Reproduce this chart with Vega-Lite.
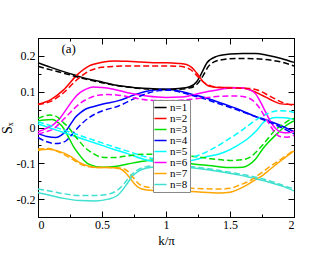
{
"$schema":"https://vega.github.io/schema/vega-lite/v6.json",
"width":256,"height":179,
"autosize":{"type":"none"},
"padding":{"left":38,"top":38,"right":38,"bottom":40},
"background":"white",
"config":{"view":{"stroke":"black","strokeWidth":1},"font":"Liberation Serif",
 "axis":{"grid":false,"domainColor":"black","tickColor":"black","labelColor":"black","titleColor":"black","labelFont":"Liberation Serif","titleFont":"Liberation Serif","labelFontSize":12,"titleFontSize":14,"titleFontWeight":"normal"}},
"data":{"values":[
{"n":"n=1","s":"solid","k":0,"v":0.181},{"n":"n=1","s":"solid","k":0.1,"v":0.168},{"n":"n=1","s":"solid","k":0.2,"v":0.156},{"n":"n=1","s":"solid","k":0.3,"v":0.145},{"n":"n=1","s":"solid","k":0.4,"v":0.135},{"n":"n=1","s":"solid","k":0.5,"v":0.127},{"n":"n=1","s":"solid","k":0.6,"v":0.119},{"n":"n=1","s":"solid","k":0.7,"v":0.114},{"n":"n=1","s":"solid","k":0.8,"v":0.11},{"n":"n=1","s":"solid","k":0.9,"v":0.108},{"n":"n=1","s":"solid","k":1.0,"v":0.107},{"n":"n=1","s":"solid","k":1.1,"v":0.109},{"n":"n=1","s":"solid","k":1.18,"v":0.113},{"n":"n=1","s":"solid","k":1.24,"v":0.128},{"n":"n=1","s":"solid","k":1.28,"v":0.153},{"n":"n=1","s":"solid","k":1.32,"v":0.181},{"n":"n=1","s":"solid","k":1.39,"v":0.198},{"n":"n=1","s":"solid","k":1.5,"v":0.205},{"n":"n=1","s":"solid","k":1.6,"v":0.207},{"n":"n=1","s":"solid","k":1.7,"v":0.207},{"n":"n=1","s":"solid","k":1.8,"v":0.201},{"n":"n=1","s":"solid","k":1.9,"v":0.193},{"n":"n=1","s":"solid","k":2.0,"v":0.182},
{"n":"n=1","s":"dash","k":0,"v":0.171},{"n":"n=1","s":"dash","k":0.1,"v":0.161},{"n":"n=1","s":"dash","k":0.2,"v":0.152},{"n":"n=1","s":"dash","k":0.3,"v":0.142},{"n":"n=1","s":"dash","k":0.4,"v":0.133},{"n":"n=1","s":"dash","k":0.5,"v":0.125},{"n":"n=1","s":"dash","k":0.6,"v":0.118},{"n":"n=1","s":"dash","k":0.7,"v":0.113},{"n":"n=1","s":"dash","k":0.8,"v":0.109},{"n":"n=1","s":"dash","k":0.9,"v":0.107},{"n":"n=1","s":"dash","k":1.0,"v":0.106},{"n":"n=1","s":"dash","k":1.1,"v":0.107},{"n":"n=1","s":"dash","k":1.18,"v":0.11},{"n":"n=1","s":"dash","k":1.24,"v":0.12},{"n":"n=1","s":"dash","k":1.29,"v":0.145},{"n":"n=1","s":"dash","k":1.33,"v":0.17},{"n":"n=1","s":"dash","k":1.38,"v":0.184},{"n":"n=1","s":"dash","k":1.45,"v":0.19},{"n":"n=1","s":"dash","k":1.55,"v":0.193},{"n":"n=1","s":"dash","k":1.7,"v":0.192},{"n":"n=1","s":"dash","k":1.8,"v":0.189},{"n":"n=1","s":"dash","k":1.9,"v":0.183},{"n":"n=1","s":"dash","k":2.0,"v":0.172},
{"n":"n=2","s":"solid","k":0,"v":0.065},{"n":"n=2","s":"solid","k":0.1,"v":0.078},{"n":"n=2","s":"solid","k":0.2,"v":0.105},{"n":"n=2","s":"solid","k":0.3,"v":0.145},{"n":"n=2","s":"solid","k":0.4,"v":0.172},{"n":"n=2","s":"solid","k":0.5,"v":0.182},{"n":"n=2","s":"solid","k":0.6,"v":0.186},{"n":"n=2","s":"solid","k":0.7,"v":0.185},{"n":"n=2","s":"solid","k":0.8,"v":0.183},{"n":"n=2","s":"solid","k":0.9,"v":0.181},{"n":"n=2","s":"solid","k":1.0,"v":0.181},{"n":"n=2","s":"solid","k":1.1,"v":0.179},{"n":"n=2","s":"solid","k":1.16,"v":0.176},{"n":"n=2","s":"solid","k":1.2,"v":0.168},{"n":"n=2","s":"solid","k":1.24,"v":0.152},{"n":"n=2","s":"solid","k":1.29,"v":0.128},{"n":"n=2","s":"solid","k":1.34,"v":0.115},{"n":"n=2","s":"solid","k":1.4,"v":0.112},{"n":"n=2","s":"solid","k":1.5,"v":0.112},{"n":"n=2","s":"solid","k":1.6,"v":0.11},{"n":"n=2","s":"solid","k":1.68,"v":0.102},{"n":"n=2","s":"solid","k":1.75,"v":0.09},{"n":"n=2","s":"solid","k":1.81,"v":0.079},{"n":"n=2","s":"solid","k":1.9,"v":0.066},{"n":"n=2","s":"solid","k":2.0,"v":0.064},
{"n":"n=2","s":"dash","k":0,"v":0.064},{"n":"n=2","s":"dash","k":0.1,"v":0.073},{"n":"n=2","s":"dash","k":0.2,"v":0.097},{"n":"n=2","s":"dash","k":0.3,"v":0.132},{"n":"n=2","s":"dash","k":0.4,"v":0.158},{"n":"n=2","s":"dash","k":0.5,"v":0.168},{"n":"n=2","s":"dash","k":0.6,"v":0.171},{"n":"n=2","s":"dash","k":0.7,"v":0.172},{"n":"n=2","s":"dash","k":0.8,"v":0.172},{"n":"n=2","s":"dash","k":0.9,"v":0.172},{"n":"n=2","s":"dash","k":1.0,"v":0.172},{"n":"n=2","s":"dash","k":1.1,"v":0.171},{"n":"n=2","s":"dash","k":1.185,"v":0.163},{"n":"n=2","s":"dash","k":1.22,"v":0.153},{"n":"n=2","s":"dash","k":1.26,"v":0.138},{"n":"n=2","s":"dash","k":1.3,"v":0.125},{"n":"n=2","s":"dash","k":1.35,"v":0.116},{"n":"n=2","s":"dash","k":1.45,"v":0.111},{"n":"n=2","s":"dash","k":1.55,"v":0.11},{"n":"n=2","s":"dash","k":1.65,"v":0.109},{"n":"n=2","s":"dash","k":1.72,"v":0.104},{"n":"n=2","s":"dash","k":1.81,"v":0.088},{"n":"n=2","s":"dash","k":1.91,"v":0.07},{"n":"n=2","s":"dash","k":2.0,"v":0.062},
{"n":"n=3","s":"solid","k":0,"v":0.018},{"n":"n=3","s":"solid","k":0.05,"v":0.021},{"n":"n=3","s":"solid","k":0.11,"v":0.022},{"n":"n=3","s":"solid","k":0.16,"v":0.013},{"n":"n=3","s":"solid","k":0.19,"v":0.003},{"n":"n=3","s":"solid","k":0.24,"v":-0.028},{"n":"n=3","s":"solid","k":0.28,"v":-0.055},{"n":"n=3","s":"solid","k":0.32,"v":-0.075},{"n":"n=3","s":"solid","k":0.36,"v":-0.092},{"n":"n=3","s":"solid","k":0.4,"v":-0.103},{"n":"n=3","s":"solid","k":0.5,"v":-0.111},{"n":"n=3","s":"solid","k":0.6,"v":-0.109},{"n":"n=3","s":"solid","k":0.7,"v":-0.102},{"n":"n=3","s":"solid","k":0.82,"v":-0.094},{"n":"n=3","s":"solid","k":0.9,"v":-0.091},{"n":"n=3","s":"solid","k":1.0,"v":-0.091},{"n":"n=3","s":"solid","k":1.1,"v":-0.095},{"n":"n=3","s":"solid","k":1.2,"v":-0.101},{"n":"n=3","s":"solid","k":1.3,"v":-0.105},{"n":"n=3","s":"solid","k":1.4,"v":-0.109},{"n":"n=3","s":"solid","k":1.5,"v":-0.112},{"n":"n=3","s":"solid","k":1.6,"v":-0.111},{"n":"n=3","s":"solid","k":1.65,"v":-0.104},{"n":"n=3","s":"solid","k":1.7,"v":-0.088},{"n":"n=3","s":"solid","k":1.76,"v":-0.058},{"n":"n=3","s":"solid","k":1.81,"v":-0.038},{"n":"n=3","s":"solid","k":1.86,"v":-0.02},{"n":"n=3","s":"solid","k":1.92,"v":0.0},{"n":"n=3","s":"solid","k":1.97,"v":0.013},{"n":"n=3","s":"solid","k":2.0,"v":0.018},
{"n":"n=3","s":"dash","k":0,"v":0.025},{"n":"n=3","s":"dash","k":0.05,"v":0.032},{"n":"n=3","s":"dash","k":0.09,"v":0.035},{"n":"n=3","s":"dash","k":0.13,"v":0.033},{"n":"n=3","s":"dash","k":0.17,"v":0.024},{"n":"n=3","s":"dash","k":0.2,"v":0.013},{"n":"n=3","s":"dash","k":0.24,"v":0.0},{"n":"n=3","s":"dash","k":0.28,"v":-0.02},{"n":"n=3","s":"dash","k":0.32,"v":-0.037},{"n":"n=3","s":"dash","k":0.37,"v":-0.057},{"n":"n=3","s":"dash","k":0.42,"v":-0.07},{"n":"n=3","s":"dash","k":0.5,"v":-0.083},{"n":"n=3","s":"dash","k":0.6,"v":-0.084},{"n":"n=3","s":"dash","k":0.7,"v":-0.079},{"n":"n=3","s":"dash","k":0.82,"v":-0.075},{"n":"n=3","s":"dash","k":1.0,"v":-0.075},{"n":"n=3","s":"dash","k":1.1,"v":-0.077},{"n":"n=3","s":"dash","k":1.2,"v":-0.08},{"n":"n=3","s":"dash","k":1.35,"v":-0.087},{"n":"n=3","s":"dash","k":1.5,"v":-0.092},{"n":"n=3","s":"dash","k":1.6,"v":-0.09},{"n":"n=3","s":"dash","k":1.65,"v":-0.084},{"n":"n=3","s":"dash","k":1.7,"v":-0.07},{"n":"n=3","s":"dash","k":1.76,"v":-0.047},{"n":"n=3","s":"dash","k":1.81,"v":-0.025},{"n":"n=3","s":"dash","k":1.86,"v":-0.005},{"n":"n=3","s":"dash","k":1.92,"v":0.01},{"n":"n=3","s":"dash","k":1.97,"v":0.022},{"n":"n=3","s":"dash","k":2.0,"v":0.025},
{"n":"n=4","s":"solid","k":0,"v":-0.017},{"n":"n=4","s":"solid","k":0.07,"v":-0.025},{"n":"n=4","s":"solid","k":0.14,"v":-0.028},{"n":"n=4","s":"solid","k":0.18,"v":-0.022},{"n":"n=4","s":"solid","k":0.22,"v":-0.009},{"n":"n=4","s":"solid","k":0.26,"v":0.012},{"n":"n=4","s":"solid","k":0.29,"v":0.028},{"n":"n=4","s":"solid","k":0.33,"v":0.041},{"n":"n=4","s":"solid","k":0.37,"v":0.051},{"n":"n=4","s":"solid","k":0.43,"v":0.058},{"n":"n=4","s":"solid","k":0.5,"v":0.065},{"n":"n=4","s":"solid","k":0.63,"v":0.075},{"n":"n=4","s":"solid","k":0.76,"v":0.092},{"n":"n=4","s":"solid","k":0.85,"v":0.101},{"n":"n=4","s":"solid","k":0.95,"v":0.106},{"n":"n=4","s":"solid","k":1.03,"v":0.106},{"n":"n=4","s":"solid","k":1.1,"v":0.102},{"n":"n=4","s":"solid","k":1.2,"v":0.093},{"n":"n=4","s":"solid","k":1.3,"v":0.084},{"n":"n=4","s":"solid","k":1.4,"v":0.072},{"n":"n=4","s":"solid","k":1.55,"v":0.053},{"n":"n=4","s":"solid","k":1.7,"v":0.031},{"n":"n=4","s":"solid","k":1.8,"v":0.019},{"n":"n=4","s":"solid","k":1.9,"v":0.005},{"n":"n=4","s":"solid","k":2.0,"v":-0.012},
{"n":"n=4","s":"dash","k":0,"v":-0.028},{"n":"n=4","s":"dash","k":0.07,"v":-0.04},{"n":"n=4","s":"dash","k":0.14,"v":-0.045},{"n":"n=4","s":"dash","k":0.19,"v":-0.042},{"n":"n=4","s":"dash","k":0.22,"v":-0.037},{"n":"n=4","s":"dash","k":0.26,"v":-0.022},{"n":"n=4","s":"dash","k":0.29,"v":-0.009},{"n":"n=4","s":"dash","k":0.34,"v":0.01},{"n":"n=4","s":"dash","k":0.4,"v":0.028},{"n":"n=4","s":"dash","k":0.5,"v":0.046},{"n":"n=4","s":"dash","k":0.63,"v":0.06},{"n":"n=4","s":"dash","k":0.76,"v":0.082},{"n":"n=4","s":"dash","k":0.85,"v":0.095},{"n":"n=4","s":"dash","k":0.95,"v":0.103},{"n":"n=4","s":"dash","k":1.03,"v":0.104},{"n":"n=4","s":"dash","k":1.1,"v":0.1},{"n":"n=4","s":"dash","k":1.2,"v":0.09},{"n":"n=4","s":"dash","k":1.3,"v":0.08},{"n":"n=4","s":"dash","k":1.4,"v":0.068},{"n":"n=4","s":"dash","k":1.55,"v":0.05},{"n":"n=4","s":"dash","k":1.7,"v":0.03},{"n":"n=4","s":"dash","k":1.8,"v":0.016},{"n":"n=4","s":"dash","k":1.9,"v":0.0},{"n":"n=4","s":"dash","k":2.0,"v":-0.018},
{"n":"n=5","s":"solid","k":0,"v":0.01},{"n":"n=5","s":"solid","k":0.1,"v":-0.002},{"n":"n=5","s":"solid","k":0.2,"v":-0.014},{"n":"n=5","s":"solid","k":0.3,"v":-0.026},{"n":"n=5","s":"solid","k":0.4,"v":-0.038},{"n":"n=5","s":"solid","k":0.5,"v":-0.05},{"n":"n=5","s":"solid","k":0.6,"v":-0.062},{"n":"n=5","s":"solid","k":0.7,"v":-0.073},{"n":"n=5","s":"solid","k":0.82,"v":-0.088},{"n":"n=5","s":"solid","k":0.9,"v":-0.095},{"n":"n=5","s":"solid","k":1.0,"v":-0.1},{"n":"n=5","s":"solid","k":1.1,"v":-0.098},{"n":"n=5","s":"solid","k":1.2,"v":-0.092},{"n":"n=5","s":"solid","k":1.3,"v":-0.083},{"n":"n=5","s":"solid","k":1.45,"v":-0.07},{"n":"n=5","s":"solid","k":1.55,"v":-0.052},{"n":"n=5","s":"solid","k":1.65,"v":-0.028},{"n":"n=5","s":"solid","k":1.71,"v":-0.008},{"n":"n=5","s":"solid","k":1.76,"v":0.014},{"n":"n=5","s":"solid","k":1.81,"v":0.024},{"n":"n=5","s":"solid","k":1.86,"v":0.028},{"n":"n=5","s":"solid","k":1.93,"v":0.027},{"n":"n=5","s":"solid","k":2.0,"v":0.022},
{"n":"n=5","s":"dash","k":0,"v":0.016},{"n":"n=5","s":"dash","k":0.1,"v":0.005},{"n":"n=5","s":"dash","k":0.2,"v":-0.007},{"n":"n=5","s":"dash","k":0.3,"v":-0.019},{"n":"n=5","s":"dash","k":0.4,"v":-0.031},{"n":"n=5","s":"dash","k":0.5,"v":-0.043},{"n":"n=5","s":"dash","k":0.6,"v":-0.055},{"n":"n=5","s":"dash","k":0.7,"v":-0.066},{"n":"n=5","s":"dash","k":0.82,"v":-0.08},{"n":"n=5","s":"dash","k":0.9,"v":-0.087},{"n":"n=5","s":"dash","k":1.0,"v":-0.092},{"n":"n=5","s":"dash","k":1.1,"v":-0.09},{"n":"n=5","s":"dash","k":1.18,"v":-0.085},{"n":"n=5","s":"dash","k":1.26,"v":-0.077},{"n":"n=5","s":"dash","k":1.35,"v":-0.062},{"n":"n=5","s":"dash","k":1.5,"v":-0.03},{"n":"n=5","s":"dash","k":1.6,"v":-0.006},{"n":"n=5","s":"dash","k":1.71,"v":0.023},{"n":"n=5","s":"dash","k":1.8,"v":0.04},{"n":"n=5","s":"dash","k":1.89,"v":0.047},{"n":"n=5","s":"dash","k":1.95,"v":0.046},{"n":"n=5","s":"dash","k":2.0,"v":0.042},
{"n":"n=6","s":"solid","k":0,"v":-0.012},{"n":"n=6","s":"solid","k":0.06,"v":-0.003},{"n":"n=6","s":"solid","k":0.12,"v":0.008},{"n":"n=6","s":"solid","k":0.17,"v":0.025},{"n":"n=6","s":"solid","k":0.22,"v":0.05},{"n":"n=6","s":"solid","k":0.28,"v":0.08},{"n":"n=6","s":"solid","k":0.33,"v":0.098},{"n":"n=6","s":"solid","k":0.38,"v":0.108},{"n":"n=6","s":"solid","k":0.43,"v":0.113},{"n":"n=6","s":"solid","k":0.5,"v":0.112},{"n":"n=6","s":"solid","k":0.59,"v":0.107},{"n":"n=6","s":"solid","k":0.7,"v":0.097},{"n":"n=6","s":"solid","k":0.85,"v":0.088},{"n":"n=6","s":"solid","k":1.0,"v":0.084},{"n":"n=6","s":"solid","k":1.11,"v":0.085},{"n":"n=6","s":"solid","k":1.2,"v":0.09},{"n":"n=6","s":"solid","k":1.29,"v":0.098},{"n":"n=6","s":"solid","k":1.4,"v":0.105},{"n":"n=6","s":"solid","k":1.5,"v":0.11},{"n":"n=6","s":"solid","k":1.58,"v":0.111},{"n":"n=6","s":"solid","k":1.65,"v":0.106},{"n":"n=6","s":"solid","k":1.7,"v":0.094},{"n":"n=6","s":"solid","k":1.74,"v":0.07},{"n":"n=6","s":"solid","k":1.78,"v":0.042},{"n":"n=6","s":"solid","k":1.82,"v":0.014},{"n":"n=6","s":"solid","k":1.86,"v":-0.004},{"n":"n=6","s":"solid","k":1.9,"v":-0.013},{"n":"n=6","s":"solid","k":1.95,"v":-0.015},{"n":"n=6","s":"solid","k":2.0,"v":-0.01},
{"n":"n=6","s":"dash","k":0,"v":-0.018},{"n":"n=6","s":"dash","k":0.06,"v":-0.012},{"n":"n=6","s":"dash","k":0.12,"v":-0.004},{"n":"n=6","s":"dash","k":0.17,"v":0.012},{"n":"n=6","s":"dash","k":0.22,"v":0.03},{"n":"n=6","s":"dash","k":0.28,"v":0.052},{"n":"n=6","s":"dash","k":0.33,"v":0.068},{"n":"n=6","s":"dash","k":0.4,"v":0.082},{"n":"n=6","s":"dash","k":0.46,"v":0.089},{"n":"n=6","s":"dash","k":0.55,"v":0.092},{"n":"n=6","s":"dash","k":0.61,"v":0.091},{"n":"n=6","s":"dash","k":0.7,"v":0.086},{"n":"n=6","s":"dash","k":0.85,"v":0.077},{"n":"n=6","s":"dash","k":1.0,"v":0.075},{"n":"n=6","s":"dash","k":1.11,"v":0.076},{"n":"n=6","s":"dash","k":1.2,"v":0.079},{"n":"n=6","s":"dash","k":1.3,"v":0.083},{"n":"n=6","s":"dash","k":1.42,"v":0.087},{"n":"n=6","s":"dash","k":1.55,"v":0.088},{"n":"n=6","s":"dash","k":1.62,"v":0.085},{"n":"n=6","s":"dash","k":1.68,"v":0.075},{"n":"n=6","s":"dash","k":1.73,"v":0.055},{"n":"n=6","s":"dash","k":1.78,"v":0.025},{"n":"n=6","s":"dash","k":1.82,"v":0.002},{"n":"n=6","s":"dash","k":1.86,"v":-0.018},{"n":"n=6","s":"dash","k":1.9,"v":-0.026},{"n":"n=6","s":"dash","k":1.95,"v":-0.027},{"n":"n=6","s":"dash","k":2.0,"v":-0.022},
{"n":"n=7","s":"solid","k":0,"v":-0.064},{"n":"n=7","s":"solid","k":0.08,"v":-0.061},{"n":"n=7","s":"solid","k":0.16,"v":-0.066},{"n":"n=7","s":"solid","k":0.25,"v":-0.08},{"n":"n=7","s":"solid","k":0.33,"v":-0.099},{"n":"n=7","s":"solid","k":0.4,"v":-0.108},{"n":"n=7","s":"solid","k":0.46,"v":-0.112},{"n":"n=7","s":"solid","k":0.55,"v":-0.112},{"n":"n=7","s":"solid","k":0.64,"v":-0.115},{"n":"n=7","s":"solid","k":0.68,"v":-0.125},{"n":"n=7","s":"solid","k":0.72,"v":-0.142},{"n":"n=7","s":"solid","k":0.76,"v":-0.16},{"n":"n=7","s":"solid","k":0.81,"v":-0.172},{"n":"n=7","s":"solid","k":0.9,"v":-0.176},{"n":"n=7","s":"solid","k":1.03,"v":-0.177},{"n":"n=7","s":"solid","k":1.2,"v":-0.179},{"n":"n=7","s":"solid","k":1.42,"v":-0.183},{"n":"n=7","s":"solid","k":1.5,"v":-0.181},{"n":"n=7","s":"solid","k":1.55,"v":-0.175},{"n":"n=7","s":"solid","k":1.62,"v":-0.163},{"n":"n=7","s":"solid","k":1.68,"v":-0.15},{"n":"n=7","s":"solid","k":1.75,"v":-0.135},{"n":"n=7","s":"solid","k":1.81,"v":-0.118},{"n":"n=7","s":"solid","k":1.9,"v":-0.092},{"n":"n=7","s":"solid","k":2.0,"v":-0.065},
{"n":"n=7","s":"dash","k":0,"v":-0.06},{"n":"n=7","s":"dash","k":0.08,"v":-0.059},{"n":"n=7","s":"dash","k":0.16,"v":-0.068},{"n":"n=7","s":"dash","k":0.25,"v":-0.085},{"n":"n=7","s":"dash","k":0.33,"v":-0.102},{"n":"n=7","s":"dash","k":0.4,"v":-0.11},{"n":"n=7","s":"dash","k":0.46,"v":-0.112},{"n":"n=7","s":"dash","k":0.55,"v":-0.112},{"n":"n=7","s":"dash","k":0.64,"v":-0.113},{"n":"n=7","s":"dash","k":0.7,"v":-0.122},{"n":"n=7","s":"dash","k":0.74,"v":-0.138},{"n":"n=7","s":"dash","k":0.78,"v":-0.155},{"n":"n=7","s":"dash","k":0.83,"v":-0.165},{"n":"n=7","s":"dash","k":0.9,"v":-0.168},{"n":"n=7","s":"dash","k":1.03,"v":-0.169},{"n":"n=7","s":"dash","k":1.2,"v":-0.17},{"n":"n=7","s":"dash","k":1.42,"v":-0.172},{"n":"n=7","s":"dash","k":1.5,"v":-0.17},{"n":"n=7","s":"dash","k":1.58,"v":-0.16},{"n":"n=7","s":"dash","k":1.66,"v":-0.148},{"n":"n=7","s":"dash","k":1.72,"v":-0.133},{"n":"n=7","s":"dash","k":1.8,"v":-0.112},{"n":"n=7","s":"dash","k":1.9,"v":-0.088},{"n":"n=7","s":"dash","k":2.0,"v":-0.063},
{"n":"n=8","s":"solid","k":0,"v":-0.182},{"n":"n=8","s":"solid","k":0.1,"v":-0.19},{"n":"n=8","s":"solid","k":0.2,"v":-0.198},{"n":"n=8","s":"solid","k":0.33,"v":-0.204},{"n":"n=8","s":"solid","k":0.45,"v":-0.205},{"n":"n=8","s":"solid","k":0.55,"v":-0.2},{"n":"n=8","s":"solid","k":0.62,"v":-0.19},{"n":"n=8","s":"solid","k":0.66,"v":-0.175},{"n":"n=8","s":"solid","k":0.7,"v":-0.155},{"n":"n=8","s":"solid","k":0.74,"v":-0.135},{"n":"n=8","s":"solid","k":0.79,"v":-0.121},{"n":"n=8","s":"solid","k":0.85,"v":-0.113},{"n":"n=8","s":"solid","k":0.95,"v":-0.109},{"n":"n=8","s":"solid","k":1.03,"v":-0.108},{"n":"n=8","s":"solid","k":1.185,"v":-0.112},{"n":"n=8","s":"solid","k":1.4,"v":-0.122},{"n":"n=8","s":"solid","k":1.575,"v":-0.133},{"n":"n=8","s":"solid","k":1.65,"v":-0.139},{"n":"n=8","s":"solid","k":1.8,"v":-0.152},{"n":"n=8","s":"solid","k":1.9,"v":-0.163},{"n":"n=8","s":"solid","k":2.0,"v":-0.177},
{"n":"n=8","s":"dash","k":0,"v":-0.172},{"n":"n=8","s":"dash","k":0.1,"v":-0.178},{"n":"n=8","s":"dash","k":0.2,"v":-0.185},{"n":"n=8","s":"dash","k":0.33,"v":-0.19},{"n":"n=8","s":"dash","k":0.45,"v":-0.19},{"n":"n=8","s":"dash","k":0.55,"v":-0.186},{"n":"n=8","s":"dash","k":0.62,"v":-0.175},{"n":"n=8","s":"dash","k":0.67,"v":-0.158},{"n":"n=8","s":"dash","k":0.71,"v":-0.14},{"n":"n=8","s":"dash","k":0.76,"v":-0.123},{"n":"n=8","s":"dash","k":0.82,"v":-0.112},{"n":"n=8","s":"dash","k":0.9,"v":-0.107},{"n":"n=8","s":"dash","k":1.03,"v":-0.106},{"n":"n=8","s":"dash","k":1.185,"v":-0.109},{"n":"n=8","s":"dash","k":1.4,"v":-0.119},{"n":"n=8","s":"dash","k":1.575,"v":-0.13},{"n":"n=8","s":"dash","k":1.65,"v":-0.135},{"n":"n=8","s":"dash","k":1.8,"v":-0.148},{"n":"n=8","s":"dash","k":1.9,"v":-0.16},{"n":"n=8","s":"dash","k":2.0,"v":-0.172}
]},
"layer":[
{"transform":[{"filter":"datum.s=='solid'"}],
 "mark":{"type":"line","interpolate":"monotone","strokeWidth":1.5},
 "encoding":{
  "x":{"field":"k","type":"quantitative","scale":{"domain":[0,2],"nice":false},
   "axis":{"orient":"bottom","title":"k/π","titleFontSize":13,"values":[0,0.25,0.5,0.75,1,1.25,1.5,1.75,2],"labelExpr":"abs(datum.value*2-round(datum.value*2))<0.01 ? format(datum.value,'~g') : ''","tickSize":{"condition":{"test":"abs(datum.value*2-round(datum.value*2))<0.01","value":-6},"value":-3},"labelPadding":8,"titlePadding":4}},
  "y":{"field":"v","type":"quantitative","scale":{"domain":[-0.25,0.25],"nice":false},
   "axis":{"orient":"left","title":"Sₓ","values":[-0.25,-0.2,-0.15,-0.1,-0.05,0,0.05,0.1,0.15,0.2,0.25],"labelExpr":"abs(datum.value*10-round(datum.value*10))<0.01 ? (abs(datum.value)<0.001 ? '0' : (datum.value<0?'-':'')+format(abs(datum.value),'.1f')) : ''","tickSize":{"condition":{"test":"abs(datum.value*10-round(datum.value*10))<0.01","value":-6},"value":-3},"labelPadding":9,"titlePadding":2}},
  "color":{"field":"n","type":"nominal","scale":{"domain":["n=1","n=2","n=3","n=4","n=5","n=6","n=7","n=8"],"range":["#000000","#ff0000","#00e000","#0000ff","#00ffff","#ff00ff","#ffa500","#40e0d0"]},
   "legend":{"orient":"none","legendX":115,"legendY":62,"title":null,"symbolType":"M-1.35,0H1.35","symbolSize":81,"symbolStrokeWidth":1.5,"labelFont":"Liberation Serif","labelFontSize":11,"labelColor":"black","strokeColor":"#888888","fillColor":"white","padding":2,"rowPadding":-4,"labelOffset":4}}
 }},
{"transform":[{"filter":"datum.s=='dash'"}],
 "mark":{"type":"line","interpolate":"monotone","strokeWidth":1.5,"strokeDash":[6,3]},
 "encoding":{
  "x":{"field":"k","type":"quantitative","axis":{"orient":"top","title":null,"labels":false,"values":[0,0.25,0.5,0.75,1,1.25,1.5,1.75,2],"tickSize":{"condition":{"test":"abs(datum.value*2-round(datum.value*2))<0.01","value":-6},"value":-3}}},
  "y":{"field":"v","type":"quantitative","axis":{"orient":"right","title":null,"labels":false,"values":[-0.25,-0.2,-0.15,-0.1,-0.05,0,0.05,0.1,0.15,0.2,0.25],"tickSize":{"condition":{"test":"abs(datum.value*10-round(datum.value*10))<0.01","value":-6},"value":-3}}},
  "color":{"field":"n","type":"nominal","legend":null}
 }},
{"data":{"values":[{"k":0.24,"v":0.22,"t":"(a)"}]},
 "mark":{"type":"text","font":"Liberation Serif","fontSize":13,"color":"black"},
 "encoding":{"x":{"field":"k","type":"quantitative","axis":null},"y":{"field":"v","type":"quantitative","axis":null},"text":{"field":"t"}}}
],
"resolve":{"axis":{"x":"independent","y":"independent"},"legend":{"color":"independent"}}
}
